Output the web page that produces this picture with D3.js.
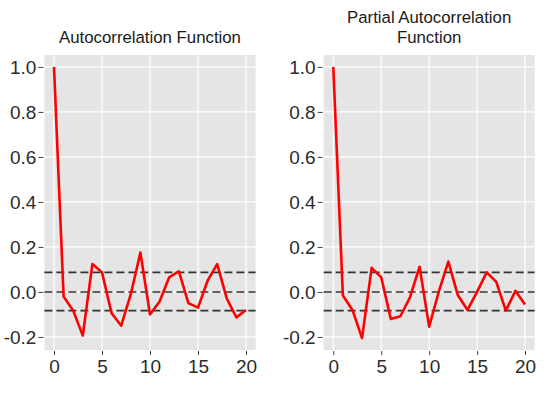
<!DOCTYPE html>
<html>
<head>
<meta charset="utf-8">
<script src="https://cdn.jsdelivr.net/npm/d3@7"></script>
<style>
  body { margin: 0; background: #fff; }
  svg { display: block; font-family: "Liberation Sans", Arial, sans-serif; }
</style>
</head>
<body>
<div id="chart"></div>
<script>
const width = 550;
const height = 395;

// lags 0..20
const lags = d3.range(0, 21);
const acfValues = [1.0, -0.02, -0.083, -0.194, 0.124, 0.087, -0.095, -0.15, -0.01, 0.175,
    -0.10, -0.042, 0.065, 0.092, -0.05, -0.07, 0.05, 0.124, -0.03, -0.113, -0.08];
const pacfValues = [1.0, -0.016, -0.08, -0.205, 0.107, 0.065, -0.12, -0.108, -0.024, 0.112,
    -0.154, 0.0, 0.135, -0.015, -0.08, 0.0, 0.087, 0.045, -0.083, 0.005, -0.056];
const confBounds = [0.087, 0, -0.083];
const yTicks = [-0.2, 0.0, 0.2, 0.4, 0.6, 0.8, 1.0];
const xTicks = [0, 5, 10, 15, 20];

const svg = d3.select("#chart")
  .append("svg")
    .attr("width", width)
    .attr("height", height);

function drawPanel(left, right, titleLines, values) {
    const x = d3.scaleLinear().domain([-1, 21]).range([left, right]);
    const y = d3.scaleLinear().domain([-0.258, 1.053]).range([350, 55]);

    const g = svg.append("g");

    g.append("rect")
        .attr("x", x(-1))
        .attr("y", y(1.053))
        .attr("width", x(21) - x(-1))
        .attr("height", y(-0.258) - y(1.053))
        .attr("fill", "#e5e5e5");

    // grid
    g.append("g")
      .selectAll("line")
      .data(yTicks)
      .join("line")
        .attr("x1", x(-1)).attr("x2", x(21))
        .attr("y1", d => y(d)).attr("y2", d => y(d))
        .attr("stroke", "#fff").attr("stroke-width", 1.2);

    g.append("g")
      .selectAll("line")
      .data(xTicks)
      .join("line")
        .attr("x1", d => x(d)).attr("x2", d => x(d))
        .attr("y1", y(1.053)).attr("y2", y(-0.258))
        .attr("stroke", "#fff").attr("stroke-width", 1.2);

    // axes
    const yAxis = g.append("g")
        .attr("transform", `translate(${x(-1) - 1},0)`)
        .call(d3.axisLeft(y).tickValues(yTicks).tickFormat(d3.format(".1f")).tickSize(5).tickPadding(2));
    const xAxis = g.append("g")
        .attr("transform", `translate(0,${y(-0.258) + 1})`)
        .call(d3.axisBottom(x).tickValues(xTicks).tickSize(4).tickPadding(5));

    [yAxis, xAxis].forEach(a => {
        a.select(".domain").remove();
        a.selectAll(".tick line").attr("stroke", "#444");
        a.selectAll(".tick text")
            .attr("fill", "#2b2b2b")
            .style("font-size", "19px")
            .style("font-family", "'Liberation Sans', Arial, sans-serif");
    });
    yAxis.selectAll(".tick text").text(d => d3.format(".1f")(d).replace("−", "-"));

    // confidence / zero lines
    g.append("g")
      .selectAll("line")
      .data(confBounds)
      .join("line")
        .attr("x1", x(-1)).attr("x2", x(21))
        .attr("y1", d => y(d)).attr("y2", d => y(d))
        .attr("stroke", "#333")
        .attr("stroke-width", 1.6)
        .attr("stroke-dasharray", "8,4");

    const line = d3.line()
        .x((d, i) => x(lags[i]))
        .y(d => y(d));

    g.append("path")
        .datum(values)
        .attr("d", line)
        .attr("fill", "none")
        .attr("stroke", "#ff0000")
        .attr("stroke-width", 2.6)
        .attr("stroke-linejoin", "round");

    const cx = (x(-1) + x(21)) / 2;
    const n = titleLines.length;
    g.append("text")
        .attr("text-anchor", "middle")
        .attr("fill", "#1a1a1a")
        .style("font-size", "16.8px")
      .selectAll("tspan")
      .data(titleLines)
      .join("tspan")
        .attr("x", cx)
        .attr("y", (d, i) => 43 - (n - 1 - i) * 20)
        .text(d => d);
}

drawPanel(44.4, 255.6, ["Autocorrelation Function"], acfValues);
drawPanel(323.7, 534.6, ["Partial Autocorrelation", "Function"], pacfValues);
</script>
</body>
</html>
